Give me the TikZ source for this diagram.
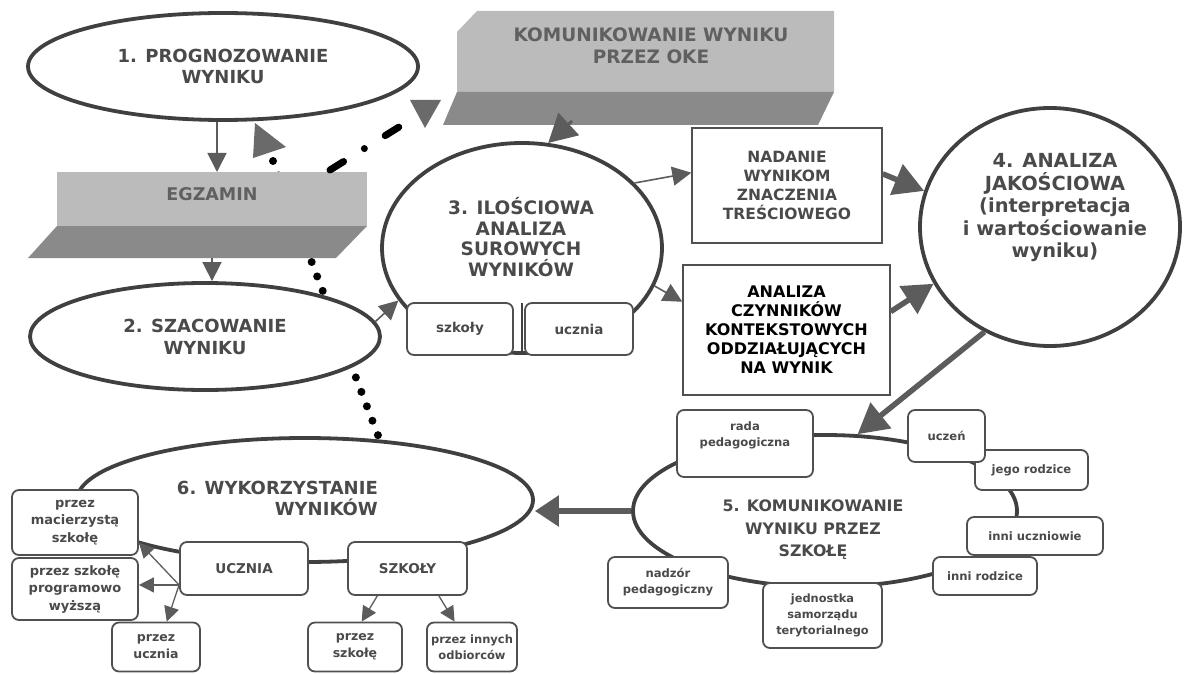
\documentclass[tikz,border=0pt]{standalone}
\usepackage{fontspec}
\setmainfont{DejaVu Sans}
\usetikzlibrary{shapes.geometric,arrows.meta,calc}
\definecolor{edgec}{HTML}{404040}
\definecolor{txtc}{HTML}{4A4A4A}
\definecolor{arrc}{HTML}{5C5C5C}
\definecolor{slabtopc}{HTML}{BBBBBB}
\definecolor{slabsidec}{HTML}{8A8A8A}
\definecolor{slabtxtc}{HTML}{606060}
\definecolor{boxc}{HTML}{505050}
\definecolor{headc}{HTML}{6A6A6A}
\newcommand\fsz[2]{\fontsize{#1}{#2}\selectfont}
\begin{document}
\begin{tikzpicture}[x=1pt,y=-1pt,
  ell/.style={ellipse, draw=edgec, line width=3.8pt, fill=white, inner sep=0pt},
  etext/.style={text=txtc, align=center, inner sep=0pt},
  rbox/.style={rectangle, rounded corners=7pt, draw=boxc, line width=1.8pt, fill=white, text=txtc, align=center, inner sep=0pt},
  sqbox/.style={rectangle, draw=boxc, line width=1.4pt, fill=white, align=center, inner sep=0pt},
  athin/.style={draw=arrc, line width=1.6pt, -{Triangle[length=19pt,width=19pt]}},
  athick/.style={draw=arrc, line width=5.5pt, -{Triangle[length=30pt,width=32pt]}},
  asmall/.style={draw=arrc, line width=1.3pt, -{Triangle[length=15pt,width=15pt]}},
  slabtxt/.style={text=slabtxtc, align=center, inner sep=0pt},
  headtri/.style={fill=headc},
  dotline/.style={draw=black, line width=8pt, line cap=round, dash pattern=on 0pt off 15.45pt},
  dashdotline/.style={draw=black, line width=7pt, line cap=round, dash pattern=on 16pt off 24.5pt on 0pt off 24.5pt},
]
\fill[white] (0,0) rectangle (1186,674);
\useasboundingbox (0,0) rectangle (1186,674);

% ellipses 6 and 5 (background shapes)
\node[ell, minimum width=456pt, minimum height=124pt] (e6) at (305,500) {};
\node[ell, minimum width=384pt, minimum height=152pt] (e5) at (825,511) {};

% dotted connector from 6 up to 1
\coordinate (dA) at (273,161);
\draw[dotline] (dA) -- (e6.39);

% ellipse 1
\node[ell, etext, minimum width=390pt, minimum height=107pt, font=\bfseries\fsz{18}{21}] (e1) at (223,66.5) {1. PROGNOZOWANIE\\WYNIKU};

% EGZAMIN slab
\fill[slabtopc] (57,172) rectangle (367,226);
\fill[slabsidec] (57,226) -- (367,226) -- (336,258) -- (28,258) -- cycle;
\node[slabtxt, font=\bfseries\fsz{17.5}{21}] (egz) at (212,194) {EGZAMIN};
\coordinate (egzT) at (217,172);
\coordinate (egzB) at (212,258);

% ellipse 2
\node[ell, etext, minimum width=350pt, minimum height=107pt, font=\bfseries\fsz{18}{22}] (e2) at (205,336.5) {2. SZACOWANIE\\WYNIKU};

% OKE slab
\fill[slabtopc] (477,11) -- (834,11) -- (834,92) -- (457,92) -- (457,32) -- cycle;
\fill[slabsidec] (457,92) -- (834,92) -- (818,125) -- (443,125) -- cycle;
\node[slabtxt, font=\bfseries\fsz{18.5}{22}] (oke) at (651,46) {KOMUNIKOWANIE WYNIKU\\PRZEZ OKE};
\coordinate (okeB) at (572,121);

% circles 3 and 4
\node[ell, minimum width=280pt, minimum height=210pt] (c3) at (522,248) {};
\node[ell, minimum width=260pt, minimum height=238pt] (c4) at (1050,227) {};

% rectangles
\node[sqbox, text=txtc, minimum width=190pt, minimum height=115pt, font=\bfseries\fsz{15.5}{19}] (nad) at (787,185.5) {NADANIE\\WYNIKOM\\ZNACZENIA\\TREŚCIOWEGO};
\node[sqbox, text=black, minimum width=207pt, minimum height=130pt, font=\bfseries\fsz{16}{19}] (ana) at (786.5,330) {ANALIZA\\CZYNNIKÓW\\KONTEKSTOWYCH\\ODDZIAŁUJĄCYCH\\NA WYNIK};

% connector below circle 3
\draw[draw=edgec, line width=2pt] (c3.south) -- (c3.south |- 0,303);
\node[rbox, minimum width=106pt, minimum height=52pt, font=\bfseries\fsz{13.5}{16}] (szk) at (460,329) {szkoły};
\node[rbox, minimum width=108pt, minimum height=52pt, font=\bfseries\fsz{13.5}{16}] (ucz3) at (579,329) {ucznia};

% boxes around ellipse 5
\node[rbox, minimum width=136pt, minimum height=67pt, text depth=19pt, font=\bfseries\fsz{11.6}{16}] (rada) at (745,443.5) {rada\\pedagogiczna};
\node[rbox, minimum width=113pt, minimum height=40pt, font=\bfseries\fsz{11.6}{16}] (jego) at (1031.5,470) {jego rodzice};
\node[rbox, minimum width=77pt, minimum height=52pt, font=\bfseries\fsz{11.6}{16}] (uczen) at (946.5,436) {uczeń};
\node[rbox, minimum width=136pt, minimum height=38pt, font=\bfseries\fsz{11.6}{16}] (inniu) at (1035,536) {inni uczniowie};
\node[rbox, minimum width=104pt, minimum height=38pt, font=\bfseries\fsz{11.6}{16}] (innir) at (985,576) {inni rodzice};
\node[rbox, minimum width=119pt, minimum height=65pt, font=\bfseries\fsz{11.4}{16}] (jst) at (822.5,615.5) {jednostka\\samorządu\\terytorialnego};
\node[rbox, minimum width=120pt, minimum height=51pt, font=\bfseries\fsz{11.6}{16}] (nadz) at (668,582.5) {nadzór\\pedagogiczny};

% boxes around ellipse 6
\node[rbox, minimum width=126pt, minimum height=65pt, font=\bfseries\fsz{13}{17.5}] (mac) at (75,522.5) {przez\\macierzystą\\szkołę};
\node[rbox, minimum width=126pt, minimum height=62pt, font=\bfseries\fsz{13}{17.5}] (prog) at (75,589) {przez szkołę\\programowo\\wyższą};
\node[rbox, minimum width=128pt, minimum height=53pt, font=\bfseries\fsz{13.5}{17}] (ucz6) at (244,568.5) {UCZNIA};
\node[rbox, minimum width=119pt, minimum height=53pt, font=\bfseries\fsz{13.5}{17}] (szl6) at (407.5,568.5) {SZKOŁY};
\node[rbox, minimum width=88pt, minimum height=49pt, font=\bfseries\fsz{12.5}{17}] (pu) at (156,647) {przez\\ucznia};
\node[rbox, minimum width=94pt, minimum height=49pt, font=\bfseries\fsz{12.5}{17}] (ps) at (355,647) {przez\\szkołę};
\node[rbox, minimum width=90pt, minimum height=49pt, font=\bfseries\fsz{11.5}{16}] (pio) at (472,647) {przez innych\\odbiorców};

% texts of the large shapes
\node[etext, font=\bfseries\fsz{18.5}{20.5}] (c3t) at (521,237) {3. ILOŚCIOWA\\ANALIZA\\SUROWYCH\\WYNIKÓW};
\node[etext, font=\bfseries\fsz{19.4}{22.5}] (c4t) at (1055,208) {4. ANALIZA\\JAKOŚCIOWA\\(interpretacja\\i wartościowanie\\wyniku)};
\node[etext, font=\bfseries\fsz{15.8}{22.5}] (e5t) at (813,530) {5. KOMUNIKOWANIE\\WYNIKU PRZEZ\\SZKOŁĘ};
\node[etext, align=right, anchor=east, font=\bfseries\fsz{18}{21}] (e6t) at (378,498) {6. WYKORZYSTANIE\\WYNIKÓW};

% arrows
\draw[athin] (e1.south -| egzT) -- (egzT);
\draw[athin] (egzB) -- (e2.north -| egzB);
\draw[athin] (e2.5) -- (c3.203);
\draw[athin] (c3.30) -- ($(nad.north west)!0.39!(nad.south west)$);
\draw[athin] (c3.-16) -- ($(ana.north west)!0.285!(ana.south west)$);
\draw[draw=arrc, line width=3pt, -{Triangle[length=28pt,width=30pt]}] (okeB) -- (c3.76);
\draw[athick] ($(nad.north east)!0.4!(nad.south east)$) -- (c4.164);
\draw[athick] ($(ana.north east)!0.36!(ana.south east)$) -- (c4.206);
\draw[athick] (c4.238) -- (e5.67);
\draw[draw=arrc, line width=5.5pt, -{Triangle[length=24pt,width=30pt]}] (e5.west) -- (e6.east |- e5.west);

\coordinate (uo) at ($(ucz6.north west)!0.8!(ucz6.south west)$);
\draw[asmall] (uo) -- ($(mac.east)!0.6!(mac.south east)$);
\draw[asmall] (uo) -- (prog.east |- uo);
\draw[asmall] (uo) -- ($(pu.north west)!0.62!(pu.north east)$);
\draw[asmall] ($(szl6.south west)!0.25!(szl6.south east)$) -- ($(ps.north west)!0.57!(ps.north east)$);
\draw[asmall] ($(szl6.south west)!0.76!(szl6.south east)$) -- ($(pio.north west)!0.31!(pio.north east)$);

% dash-dot connector EGZAMIN -> OKE, and arrow heads
\coordinate (dd1) at (330,170);
\coordinate (dd2) at (399,127);
\draw[dashdotline] (dd1) -- (dd2);
\fill[headtri] (410,100) -- (441,100) -- (425,128) -- cycle;
\fill[headtri] (255,123) -- (286,147) -- (253,158) -- cycle;
\end{tikzpicture}
\end{document}
